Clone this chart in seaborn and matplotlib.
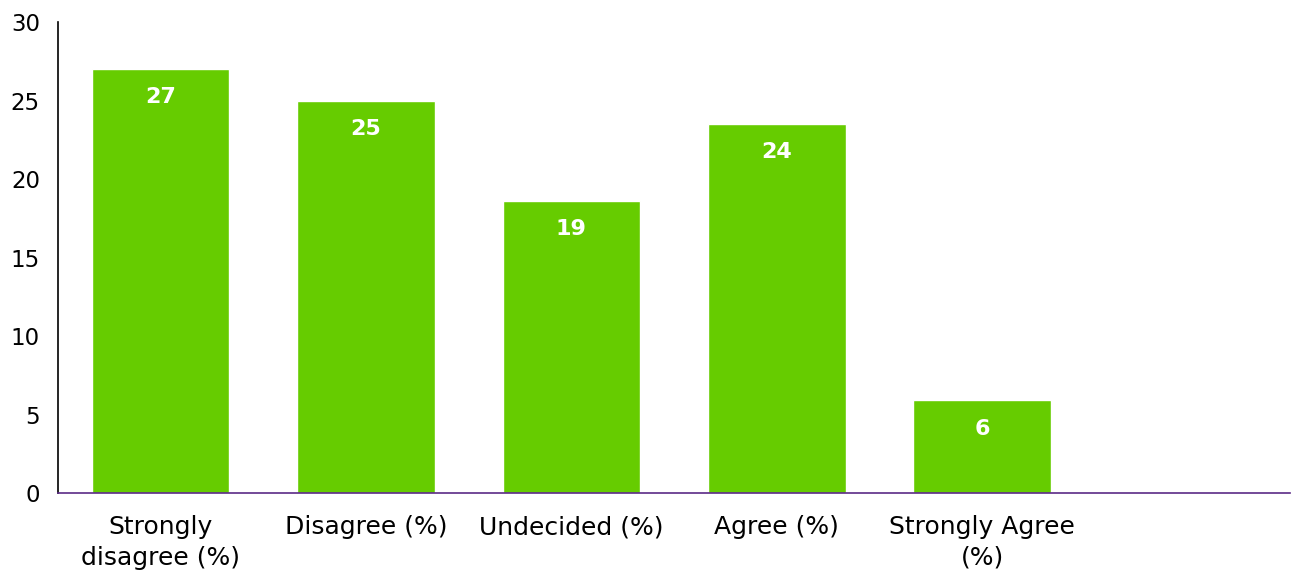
import matplotlib
matplotlib.use("Agg")
import matplotlib.pyplot as plt
import seaborn as sns
import pandas as pd

categories = ["Strongly\ndisagree (%)", "Disagree (%)", "Undecided (%)", "Agree (%)", "Strongly Agree\n(%)"]
values = [27.0, 25.0, 18.6, 23.5, 5.9]
yticks = [0, 5, 10, 15, 20, 25, 30]

df = pd.DataFrame({"category": categories, "value": values})

sns.set_theme(style="white")
plt.rcParams["font.family"] = ["DejaVu Sans"]

fig = plt.figure(figsize=(12.95, 5.73), dpi=100)
ax = fig.add_axes([0.0448, 0.1396, 0.9515, 0.822])

sns.barplot(data=df, x="category", y="value", color="#66cc00", saturation=1,
            width=0.67, ax=ax)

for p, v in zip(ax.patches, values):
    ax.text(p.get_x() + p.get_width() / 2, p.get_height() - 1.8, f"{v:.0f}",
            ha="center", va="center", color="white", fontsize=16, fontweight="bold")

ax.set_xlim(-0.5, 5.5)
ax.set_ylim(0, 30)
ax.set_yticks(yticks)
ax.set_xlabel("")
ax.set_ylabel("")
ax.tick_params(axis="x", length=0, pad=16, labelsize=18, colors="black")
ax.tick_params(axis="y", length=0, pad=13, labelsize=16.5, colors="black")
for t in ax.get_xticklabels():
    t.set_linespacing(1.35)

for s in ["top", "right"]:
    ax.spines[s].set_visible(False)
ax.spines["left"].set_color("black")
ax.spines["left"].set_linewidth(1.2)
ax.spines["bottom"].set_color("#5b2a86")
ax.spines["bottom"].set_linewidth(1.2)

fig.savefig("out.png", dpi=100)
